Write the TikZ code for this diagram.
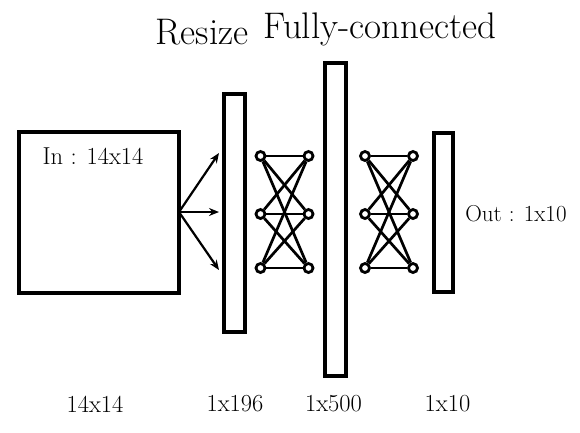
\documentclass[tikz,border=0pt]{standalone}
\usetikzlibrary{arrows.meta}
\begin{document}
\begin{tikzpicture}[x=1pt,y=-1pt,
  boxline/.style={line width=4.5pt},
  neuron/.style={circle,draw,line width=2.8pt,minimum size=9pt,inner sep=0pt,fill=white},
  conn/.style={line width=2.7pt},
  arr/.style={line width=2.2pt,-{Stealth[length=10pt,width=8pt]}},
  big/.style={font=\fontsize{37}{44}\selectfont},
  lab/.style={font=\fontsize{24.5}{29}\selectfont}]
\useasboundingbox (0,0) rectangle (580,432);
% input box
\draw[boxline] (19,132) rectangle (179,293);
\node[lab] (in) at (93,156) {In : 14x14};
\coordinate (src) at (179,212);
% bars
\draw[boxline] (224,94) rectangle (245,332);
\draw[boxline] (325,63) rectangle (346,376);
\draw[boxline] (434,133) rectangle (453,292);
% arrows
\coordinate (t1) at (219,153);
\coordinate (t2) at (219,212);
\coordinate (t3) at (219,270);
\draw[arr] (src) -- (t1);
\draw[arr] (src) -- (t2);
\draw[arr] (src) -- (t3);
% neurons
\foreach \i/\y in {1/156,2/214,3/268}{
  \node[neuron] (a\i) at (260.5,\y) {};
  \node[neuron] (b\i) at (308.5,\y) {};
  \node[neuron] (c\i) at (365,\y) {};
  \node[neuron] (d\i) at (413,\y) {};
}
\foreach \i in {1,2,3}{
  \foreach \j in {1,2,3}{
    \draw[conn] (a\i) -- (b\j);
    \draw[conn] (c\i) -- (d\j);
  }
}
\node[lab,font=\fontsize{23}{27}\selectfont] (out) at (516,214) {Out : 1x10};
% titles
\node[big] (resize) at (202,32) {Resize};
\node[big] (fc) at (380,29) {Fully-connected};
% bottom labels
\node[lab] (l1) at (95,404) {14x14};
\node[lab] (l2) at (235,404) {1x196};
\node[lab] (l3) at (333.5,404) {1x500};
\node[lab] (l4) at (447.5,404) {1x10};
\end{tikzpicture}
\end{document}
